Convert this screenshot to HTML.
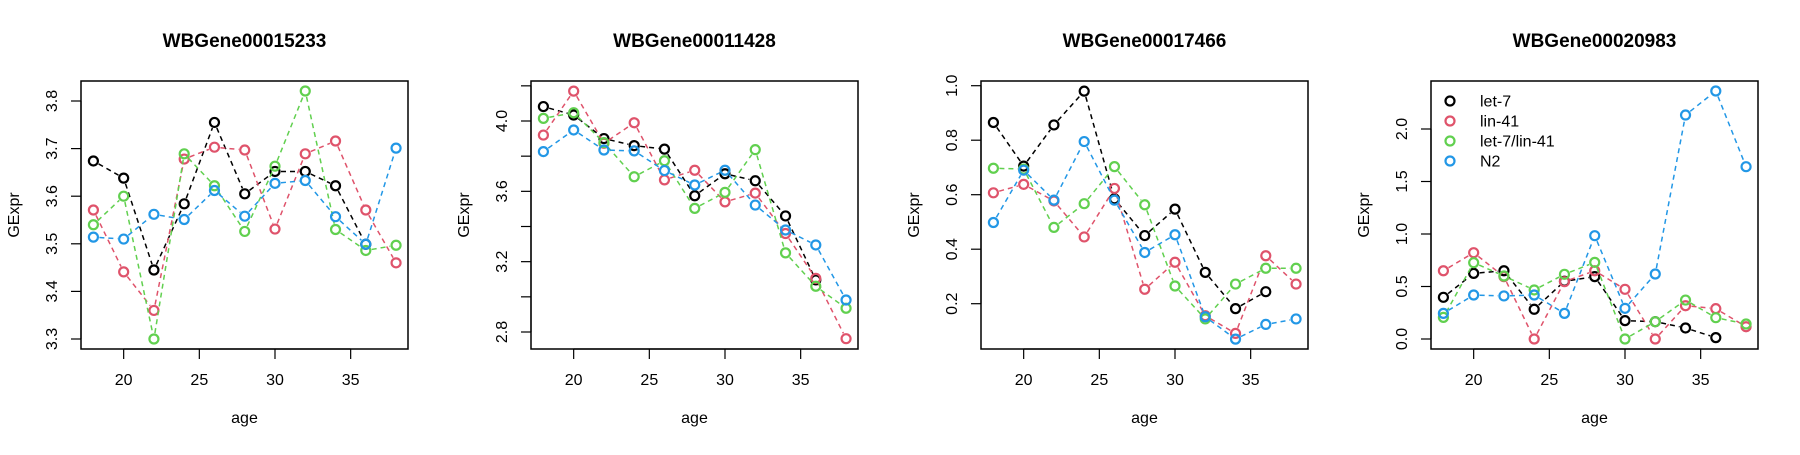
<!DOCTYPE html>
<html><head><meta charset="utf-8"><style>
html,body{margin:0;padding:0;background:#fff}
svg text{font-family:"Liberation Sans",Arial,sans-serif}
</style></head><body>
<svg id="chart" width="1800" height="450" xmlns="http://www.w3.org/2000/svg"></svg>
<script>
const titles=["WBGene00015233","WBGene00011428","WBGene00017466","WBGene00020983"];
const ages=[18,20,22,24,26,28,30,32,34,36,38];
const seriesNames=["let-7","lin-41","let-7/lin-41","N2"];
const colors=["#000000","#DF536B","#61D04F","#2297E6"];
const xTicks=[20,25,30,35];
const p1Black=[3.674,3.638,3.445,3.584,3.755,3.605,3.652,3.652,3.622,3.499,null];
const p1Red=[3.571,3.441,3.36,3.678,3.703,3.697,3.531,3.689,3.716,3.571,3.46];
const p1Green=[3.54,3.60,3.30,3.689,3.622,3.526,3.663,3.821,3.53,3.486,3.497];
const p1Blue=[3.514,3.51,3.562,3.551,3.612,3.558,3.627,3.633,3.557,3.499,3.701];
const p2Black=[4.082,4.034,3.90,3.86,3.84,3.575,3.70,3.66,3.46,3.096,null];
const p2Red=[3.92,4.17,3.873,3.99,3.665,3.72,3.54,3.59,3.36,3.105,2.762];
const p2Green=[4.015,4.047,3.877,3.683,3.774,3.503,3.594,3.837,3.25,3.06,2.935];
const p2Blue=[3.826,3.949,3.835,3.83,3.718,3.636,3.72,3.522,3.38,3.295,2.982];
const p3Black=[0.865,0.705,0.856,0.98,0.585,0.45,0.547,0.315,0.182,0.244,null];
const p3Red=[0.607,0.638,0.577,0.445,0.623,0.253,0.352,0.156,0.091,0.376,0.272];
const p3Green=[0.697,0.694,0.48,0.567,0.703,0.563,0.265,0.144,0.272,0.33,0.33];
const p3Blue=[0.498,0.69,0.58,0.795,0.58,0.388,0.453,0.152,0.07,0.124,0.144];
const p4Black=[0.397,0.625,0.65,0.283,0.55,0.594,0.175,0.165,0.105,0.013,null];
const p4Red=[0.65,0.822,0.594,0,0.546,0.65,0.473,0,0.317,0.289,0.117];
const p4Green=[0.206,0.727,0.6,0.467,0.616,0.73,0,0.165,0.371,0.203,0.143];
const p4Blue=[0.244,0.419,0.41,0.419,0.244,0.984,0.292,0.619,2.133,2.362,1.641];
const yTicks1=[3.3,3.4,3.5,3.6,3.7,3.8];
const yTicks2=[2.8,3.0,3.2,3.4,3.6,3.8,4.0,4.2];
const yLabels2=["2.8","","3.2","","3.6","","4.0",""];
const yTicks3=[0.2,0.4,0.6,0.8,1.0];
const yTicks4=[0,0.5,1.0,1.5,2.0];
const yLabels1=["3.3","3.4","3.5","3.6","3.7","3.8"];
const yLabels3=["0.2","0.4","0.6","0.8","1.0"];
const yLabels4=["0.0","0.5","1.0","1.5","2.0"];

const panels=[
 {series:[p1Black,p1Red,p1Green,p1Blue],ticks:yTicks1,labels:yLabels1,v0:3.8,py0:101,v1:3.3,py1:339},
 {series:[p2Black,p2Red,p2Green,p2Blue],ticks:yTicks2,labels:yLabels2,v0:4.0,py0:121,v1:2.8,py1:332},
 {series:[p3Black,p3Red,p3Green,p3Blue],ticks:yTicks3,labels:yLabels3,v0:1.0,py0:85.7,v1:0.2,py1:303.7},
 {series:[p4Black,p4Red,p4Green,p4Blue],ticks:yTicks4,labels:yLabels4,v0:2.0,py0:129,v1:0,py1:339}
];
const NS="http://www.w3.org/2000/svg";
const svg=document.getElementById('chart');
function mk(tag,attrs,parent){const e=document.createElementNS(NS,tag);for(const k in attrs)e.setAttribute(k,attrs[k]);(parent||svg).appendChild(e);return e;}
panels.forEach((P,pi)=>{
  const off=pi*450, L=81+off, R=408+off, T=81, B=349;
  const g=mk('g',{});
  
  
  const xs=a=>93.4+off+(a-18)*15.133;
  const ys=v=>P.py0+(P.v0-v)*(P.py1-P.py0)/(P.v0-P.v1);
  const t=mk('text',{x:(L+R)/2,y:47,'text-anchor':'middle','font-size':19,'font-weight':'bold'},g);
  t.textContent=titles[pi];
  
  
  const box=mk('rect',{x:L,y:T,width:R-L,height:B-T,fill:'none',stroke:'#000','stroke-width':1.5},g);
  
  
  const xa=mk('g',{},g);
  
  
  mk('line',{x1:xs(xTicks[0]),x2:xs(xTicks[xTicks.length-1]),y1:B,y2:B,stroke:'#000','stroke-width':1.2},xa);
  xTicks.forEach(v=>{
    mk('line',{x1:xs(v),x2:xs(v),y1:B,y2:B+10,stroke:'#000','stroke-width':1.2},xa);
    const tl=mk('text',{x:xs(v),y:385,'text-anchor':'middle','font-size':16},xa);
    tl.textContent=v;
    
    
  });
  const xt=mk('text',{x:(L+R)/2,y:423,'text-anchor':'middle','font-size':16},g);
  xt.textContent='age';
  
  
  const ya=mk('g',{},g);
  
  
  mk('line',{x1:L,x2:L,y1:ys(P.ticks[0]),y2:ys(P.ticks[P.ticks.length-1]),stroke:'#000','stroke-width':1.2},ya);
  P.ticks.forEach((v,i)=>{
    const y=ys(v);
    mk('line',{x1:L-10,x2:L,y1:y,y2:y,stroke:'#000','stroke-width':1.2},ya);
    if(P.labels[i]){
      const tl=mk('text',{x:0,y:0,'text-anchor':'middle','font-size':16,transform:`translate(${57+off},${y}) rotate(-90)`},ya);
      tl.textContent=P.labels[i];
      
      
    }
  });
  const yt=mk('text',{x:0,y:0,'text-anchor':'middle','font-size':16,transform:`translate(${19+off},${(T+B)/2}) rotate(-90)`},g);
  yt.textContent='GExpr';
  
  
  P.series.forEach((vals,si)=>{
    const sg=mk('g',{},g);
    
    
    const pts=[];
    vals.forEach((v,i)=>{if(v!==null)pts.push([xs(ages[i]),ys(v)]);});
    for(let i=0;i<pts.length-1;i++){
      const [x1,y1]=pts[i],[x2,y2]=pts[i+1];
      const d=Math.hypot(x2-x1,y2-y1), gap=6;
      if(d>2*gap){
        const ux=(x2-x1)/d,uy=(y2-y1)/d;
        mk('line',{x1:x1+ux*gap,y1:y1+uy*gap,x2:x2-ux*gap,y2:y2-uy*gap,stroke:colors[si],'stroke-width':1.5,'stroke-dasharray':'5,4'},sg);
      }
    }
    pts.forEach(p=>{
      const c=mk('circle',{cx:p[0],cy:p[1],r:4.5,fill:'none',stroke:colors[si],'stroke-width':2.2},sg);
      
      
    });
  });
  if(pi===3){
    const lg=mk('g',{},g);
    
    
    seriesNames.forEach((n,i)=>{
      const y=101+i*20;
      mk('circle',{cx:1450,cy:y,r:4.5,fill:'none',stroke:colors[i],'stroke-width':2.2},lg);
      const lt=mk('text',{x:1480,y:y+5.5,'font-size':16},lg);
      lt.textContent=n;
      
      
    });
  }
});
</script>
</body></html>
